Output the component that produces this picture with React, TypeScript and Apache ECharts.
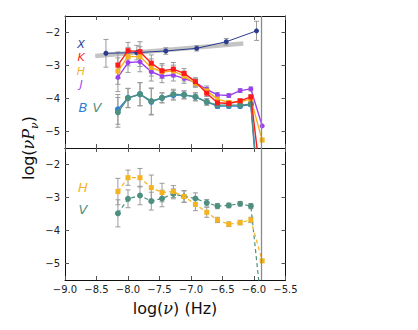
import React, { useEffect, useRef } from "react";
import * as echarts from "echarts";

const xs = [-8.16, -8.0, -7.81, -7.63, -7.46, -7.28, -7.11, -6.93, -6.75, -6.58, -6.4, -6.22, -6.05, -5.87];

const kTop = [-2.99, -2.55, -2.58, -2.93, -3.16, -3.11, -3.24, -3.49, -3.84, -4.13, -4.15, -4.07, -3.95, -6.8];
const hTop = [-3.17, -2.73, -2.73, -3.06, -3.19, -3.17, -3.32, -3.54, -3.77, -4.02, -4.12, -4.1, -4.02, -5.26];
const jTop = [-3.36, -2.91, -2.89, -3.19, -3.32, -3.29, -3.39, -3.52, -3.72, -3.89, -3.91, -3.76, -3.71, -4.83];
const bTop = [-4.33, -3.98, -3.87, -4.1, -3.98, -3.9, -3.89, -3.95, -4.1, -4.23, -4.23, -4.23, -4.18, -8.0];
const vTop = [-4.42, -3.99, -3.87, -4.08, -3.98, -3.87, -3.89, -3.95, -4.1, -4.2, -4.2, -4.2, -4.17, -8.5];

const kErr = [0.4, 0.25, 0.3, 0.25, 0.22, 0.2, 0.15, 0.12, 0.1, 0.07, 0.06, 0.06, 0.06, 0];
const hErr = [0.4, 0.28, 0.3, 0.26, 0.2, 0.18, 0.15, 0.12, 0.1, 0.07, 0.06, 0.06, 0.06, 0];
const jErr = [0.43, 0.3, 0.3, 0.28, 0.2, 0.18, 0.15, 0.12, 0.1, 0.07, 0.06, 0.06, 0.06, 0];
const bErr = [0.45, 0.29, 0.35, 0.4, 0.15, 0.15, 0.12, 0.12, 0.1, 0.07, 0.06, 0.06, 0.06, 0];
const vErr = [0.45, 0.29, 0.35, 0.4, 0.15, 0.15, 0.12, 0.12, 0.1, 0.07, 0.06, 0.06, 0.06, 0];

const xX = [-8.35, -7.86, -7.4, -6.91, -6.44, -5.96];
const xTop = [-2.63, -2.61, -2.56, -2.48, -2.28, -1.95];
const xErr = [0.42, 0.22, 0.1, 0.08, 0.1, 0.29];

const bandX = [-8.52, -6.17];
const bandY = [-2.71, -2.33];

const hBot = [-2.82, -2.4, -2.4, -2.7, -2.85, -2.82, -2.97, -3.21, -3.45, -3.68, -3.81, -3.76, -3.68, -4.92];
const vBot = [-3.48, -3.04, -2.94, -3.11, -3.03, -2.89, -2.97, -3.03, -3.16, -3.26, -3.24, -3.19, -3.26, -6.5];
const hBotErr = [0.4, 0.23, 0.28, 0.38, 0.28, 0.18, 0.18, 0.19, 0.15, 0.08, 0.07, 0.07, 0.08, 0];
const vBotErr = [0.41, 0.27, 0.28, 0.27, 0.25, 0.15, 0.17, 0.17, 0.1, 0.08, 0.07, 0.07, 0.08, 0];

const yTicks = [-5, -4, -3, -2];
const cutoff = -5.88;

const C = {
  X: "#2b3b8f",
  K: "#ff1a1a",
  H: "#f5b31e",
  J: "#9b3ff0",
  B: "#2f7fd6",
  V: "#4d9080",
};

const minus = (s: string) => s.replace("-", "\u2212");

function pts(x: number[], y: number[]) {
  return x.map((v, i) => [v, y[i]]);
}
function errPts(x: number[], y: number[], e: number[]) {
  return x.map((v, i) => [v, y[i], e[i]]);
}

const errRender = (params: any, api: any) => {
  const x = api.value(0);
  const y = api.value(1);
  const e = api.value(2);
  if (!e) return null;
  const t = api.coord([x, y + e]);
  const b = api.coord([x, y - e]);
  const w = 2.5;
  const st = { stroke: "#9a9a9a", lineWidth: 1 };
  return {
    type: "group",
    children: [
      { type: "line", shape: { x1: t[0], y1: t[1], x2: b[0], y2: b[1] }, style: st },
      { type: "line", shape: { x1: t[0] - w, y1: t[1], x2: t[0] + w, y2: t[1] }, style: st },
      { type: "line", shape: { x1: b[0] - w, y1: b[1], x2: b[0] + w, y2: b[1] }, style: st },
    ],
  };
};

function errSeries(x: number[], y: number[], e: number[], ax: number) {
  return {
    type: "custom",
    xAxisIndex: ax,
    yAxisIndex: ax,
    renderItem: errRender,
    data: errPts(x, y, e),
    encode: { x: 0, y: 1 },
    clip: true,
    silent: true,
    z: 1,
  };
}

function lineSeries(x: number[], y: number[], color: string, symbol: string, ax: number, dashed: boolean, z: number, size = 5, width = 1.4) {
  return {
    type: "line",
    xAxisIndex: ax,
    yAxisIndex: ax,
    data: pts(x, y),
    symbol,
    symbolSize: size,
    showSymbol: true,
    clip: true,
    lineStyle: { color, width: dashed ? 1.2 : width, type: dashed ? [4, 3] : "solid" },
    itemStyle: { color, borderWidth: 0 },
    silent: true,
    z,
  };
}

const vline = {
  silent: true,
  symbol: ["none", "none"],
  label: { show: false },
  lineStyle: { color: "#8a8a8a", type: "solid", width: 1.3 },
  data: [{ xAxis: cutoff }],
};

function xAx(grid: number, pos: string, labels: boolean) {
  return {
    type: "value",
    gridIndex: grid,
    position: pos,
    min: -9,
    max: -5.5,
    interval: 0.5,
    axisLine: { show: true, lineStyle: { color: "#111", width: 1 } },
    axisTick: { show: true, inside: true, length: 4, lineStyle: { color: "#555" } },
    axisLabel: {
      show: labels,
      color: "#222",
      fontSize: 10,
      fontFamily: "DejaVu Sans",
      margin: 4,
      formatter: (v: number) => minus(v.toFixed(1)),
    },
    splitLine: { show: false },
  };
}

function yAx(grid: number, pos: string, labels: boolean) {
  return {
    type: "value",
    gridIndex: grid,
    position: pos,
    min: -5.5,
    max: -1.5,
    axisLine: { show: true, onZero: false, lineStyle: { color: "#111", width: 1 } },
    axisTick: { show: true, inside: true, length: 4, customValues: yTicks, lineStyle: { color: "#555" } },
    axisLabel: {
      show: labels,
      customValues: yTicks,
      color: "#222",
      fontSize: 10,
      fontFamily: "DejaVu Sans",
      margin: 5,
      formatter: (v: number) => minus(String(v)),
    },
    splitLine: { show: false },
  };
}

function letter(text: string, color: string, x: number, y: number, size = 13) {
  return {
    type: "text",
    x,
    y,
    style: {
      text,
      fill: color,
      fontSize: size,
      lineHeight: size,
      fontStyle: "italic",
      fontFamily: "DejaVu Sans",
      align: "center",
      verticalAlign: "middle",
    },
    silent: true,
  };
}

export default function App() {
  const ref = useRef<HTMLDivElement>(null);
  useEffect(() => {
    if (!ref.current) return;
    const chart = echarts.init(ref.current, undefined, { renderer: "svg" });
    const bandSeries: any = {
      type: "line",
      xAxisIndex: 0,
      yAxisIndex: 0,
      data: pts(bandX, bandY),
      symbol: "none",
      lineStyle: { color: "#c4c4c4", width: 4.5 },
      silent: true,
      z: 0,
      markLine: vline,
    };
    const hBotSeries: any = lineSeries(xs, hBot, C.H, "rect", 2, true, 4);
    hBotSeries.markLine = vline;
    const option: any = {
      animation: false,
      backgroundColor: "#ffffff",
      grid: [
        { left: 65, top: 16, width: 220.5, height: 132, show: false },
        { left: 65, top: 148, width: 220.5, height: 132, show: false },
      ],
      xAxis: [xAx(0, "bottom", false), xAx(0, "top", false), xAx(1, "bottom", true), xAx(1, "top", false)],
      yAxis: [yAx(0, "left", true), yAx(0, "right", false), yAx(1, "left", true), yAx(1, "right", false)],
      series: [
        bandSeries,
        errSeries(xX, xTop, xErr, 0),
        errSeries(xs, kTop, kErr, 0),
        errSeries(xs, hTop, hErr, 0),
        errSeries(xs, jTop, jErr, 0),
        errSeries(xs, bTop, bErr, 0),
        errSeries(xs, vTop, vErr, 0),
        lineSeries(xX, xTop, C.X, "circle", 0, false, 3, 5, 1),
        lineSeries(xs, jTop, C.J, "circle", 0, false, 3),
        lineSeries(xs, hTop, C.H, "rect", 0, false, 4),
        lineSeries(xs, kTop, C.K, "rect", 0, false, 5),
        lineSeries(xs, bTop, C.B, "circle", 0, false, 3, 6),
        lineSeries(xs, vTop, C.V, "circle", 0, false, 4, 6),
        errSeries(xs, hBot, hBotErr, 2),
        errSeries(xs, vBot, vBotErr, 2),
        lineSeries(xs, vBot, C.V, "circle", 2, true, 3, 6),
        hBotSeries,
      ],
      graphic: [
        letter("X", C.X, 81, 44, 11),
        letter("K", C.K, 81, 57.5, 11),
        letter("H", C.H, 81, 71, 11),
        letter("J", C.J, 81, 84.5, 11),
        letter("B", C.B, 83, 107.5),
        letter("V", C.V, 97, 107.5),
        letter("H", C.H, 83, 187),
        letter("V", C.V, 83, 209),
        {
          type: "text",
          x: 28,
          y: 148,
          rotation: Math.PI / 2,
          style: {
            text: "{a|log(}{b|νP}{c|ν}{a|)}",
            align: "center",
            verticalAlign: "middle",
            rich: {
              a: { fontSize: 16, fontFamily: "DejaVu Sans", fill: "#111", lineHeight: 24, verticalAlign: "middle" },
              b: { fontSize: 16, fontFamily: "DejaVu Serif", fontStyle: "italic", fill: "#111", lineHeight: 24, verticalAlign: "middle" },
              c: { fontSize: 11, fontFamily: "DejaVu Serif", fontStyle: "italic", fill: "#111", lineHeight: 24, verticalAlign: "bottom" },
            },
          },
          silent: true,
        },
        {
          type: "text",
          x: 175,
          y: 308,
          style: {
            text: "{a|log(}{b|ν}{a|) (Hz)}",
            align: "center",
            verticalAlign: "middle",
            rich: {
              a: { fontSize: 16, fontFamily: "DejaVu Sans", fill: "#111" },
              b: { fontSize: 16, fontFamily: "DejaVu Serif", fontStyle: "italic", fill: "#111" },
            },
          },
          silent: true,
        },
      ],
    };
    chart.setOption(option);
    return () => chart.dispose();
  }, []);
  return <div ref={ref} style={{ width: 418, height: 330, margin: -8 }} />;
}
